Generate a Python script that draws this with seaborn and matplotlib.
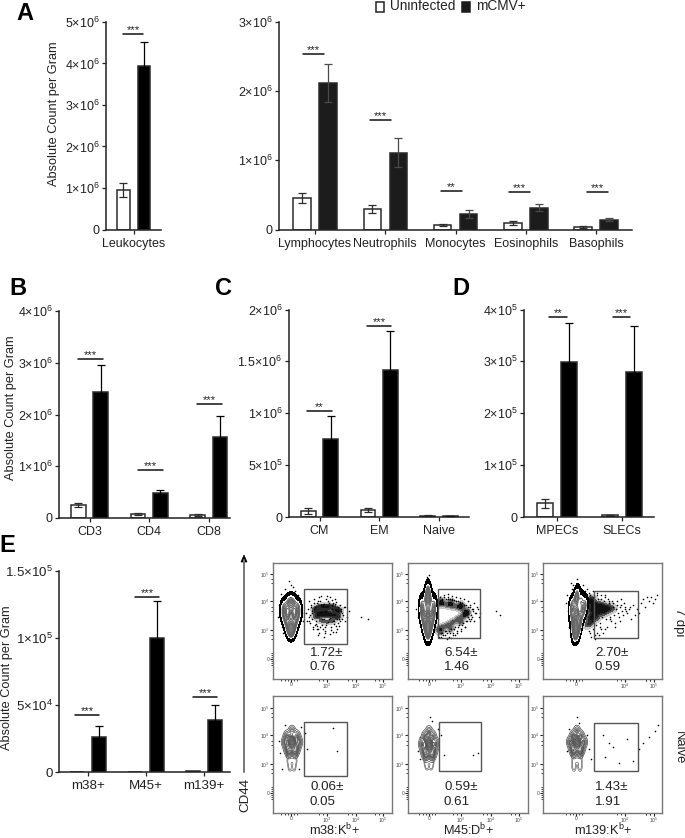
import pandas as pd
import matplotlib
matplotlib.use('Agg')
import matplotlib.pyplot as plt
import seaborn as sns
from matplotlib.colors import ListedColormap
from matplotlib.lines import Line2D
from matplotlib.patches import Rectangle

W, H = 685, 838

# Bar chart values
leuk_cats = ['Leukocytes']
leuk_white = [0.95e6]
leuk_black = [3.94e6]
leuk_white_err = [0.16e6]
leuk_black_err = [0.57e6]

gran_cats = ['Lymphocytes', 'Neutrophils', 'Monocytes', 'Eosinophils', 'Basophils']
gran_white = [0.453e6, 0.294e6, 0.063e6, 0.091e6, 0.034e6]
gran_black = [2.12e6, 1.107e6, 0.226e6, 0.318e6, 0.14e6]
gran_white_err = [0.077e6, 0.058e6, 0.015e6, 0.03e6, 0.014e6]
gran_black_err = [0.27e6, 0.21e6, 0.063e6, 0.048e6, 0.024e6]

cd_cats = ['CD3', 'CD4', 'CD8']
cd_white = [0.244e6, 0.077e6, 0.064e6]
cd_black = [2.43e6, 0.475e6, 1.56e6]
cd_white_err = [0.038e6, 0.013e6, 0.02e6]
cd_black_err = [0.53e6, 0.07e6, 0.42e6]

mem_cats = ['CM', 'EM', 'Naive']
mem_white = [0.058e6, 0.064e6, 0.012e6]
mem_black = [0.756e6, 1.42e6, 0.008e6]
mem_white_err = [0.025e6, 0.02e6, 0.003e6]
mem_black_err = [0.218e6, 0.37e6, 0.002e6]

eff_cats = ['MPECs', 'SLECs']
eff_white = [0.263e5, 0.032e5]
eff_black = [2.99e5, 2.79e5]
eff_white_err = [0.09e5, 0.013e5]
eff_black_err = [0.75e5, 0.89e5]

tet_cats = ['m38+', 'M45+', 'm139+']
tet_white = [0.01e4, 0.03e4, 0.06e4]
tet_black = [2.64e4, 9.98e4, 3.9e4]
tet_white_err = [0.0, 0.0, 0.0]
tet_black_err = [0.77e4, 2.76e4, 1.07e4]

# Flow panels: percentages and channel positions
flow_pct_7dpi = ['1.72±', '6.54±', '2.70±']
flow_sd_7dpi = ['0.76', '1.46', '0.59']
flow_pct_naive = ['0.06±', '0.59±', '1.43±']
flow_sd_naive = ['0.05', '0.61', '1.91']
flow_xlabels = ['m38:K$^{b}$+', 'M45:D$^{b}$+', 'm139:K$^{b}$+']

core_11_x = [11, 15, 21, 25, 18, 11, 18, 25, 13, 23, 18, 15, 21, 18, 17, 19]
core_11_y = [72, 75, 75, 72, 78, 65, 66, 65, 59, 59, 60, 53, 53, 50, 48, 48]
cloud_11_x = [42, 46, 50, 54, 58, 62, 66, 42, 46, 50, 54, 58, 62, 66, 48, 54, 60, 44, 52, 64]
cloud_11_y = [70, 72, 73, 72, 73, 71, 69, 62, 64, 65, 64, 65, 63, 62, 58, 57, 58, 67, 68, 67]
dots_11_x = [8, 12, 18, 22, 26, 6, 5, 9, 30, 31, 16, 20, 14, 25, 10, 23, 19, 17, 36, 38, 41, 44, 47, 50, 53, 56, 59, 62, 65, 68, 70, 37, 40, 43, 46, 49, 52, 55, 58, 61, 64, 67, 39, 45, 51, 57, 63, 42, 48, 54, 60, 66, 36, 44, 52, 60, 88, 95, 72, 76,
             35, 37, 39, 41, 43, 45, 47, 49, 51, 53, 55, 57, 59, 61, 63, 65, 67, 69, 38, 42, 46, 50, 54, 58, 62, 66, 40, 44, 48, 52, 56, 60, 64, 68, 36, 41, 47, 53, 59, 65, 71, 39, 45, 51, 57, 63, 69, 33, 34, 72, 74]
dots_11_y = [85, 90, 94, 88, 80, 74, 62, 52, 58, 66, 98, 92, 84, 84, 46, 44, 42, 86, 78, 72, 80, 76, 78, 74, 80, 76, 79, 75, 72, 70, 64, 56, 50, 58, 46, 54, 48, 57, 52, 55, 50, 58, 66, 44, 42, 45, 47, 72, 74, 73, 76, 60, 62, 53, 52, 58, 62, 60, 58, 68,
             70, 64, 60, 76, 55, 78, 52, 60, 75, 54, 78, 61, 74, 58, 77, 56, 74, 66, 74, 54, 82, 50, 83, 49, 80, 53, 52, 50, 83, 46, 60, 47, 60, 68, 58, 70, 67, 68, 70, 68, 72, 68, 50, 60, 82, 53, 60, 66, 58, 72, 62]
gate_11 = [31, 74, 35, 90]

core_12_x = [14, 18, 22, 26, 20, 14, 20, 26, 16, 24, 20, 17, 23, 20, 19, 21, 20]
core_12_y = [74, 78, 78, 74, 84, 66, 66, 66, 60, 60, 60, 54, 54, 50, 47, 47, 88]
cloud_12_x = [30, 35, 40, 45, 50, 55, 59, 30, 35, 40, 45, 50, 55, 59, 33, 43, 53, 33, 43, 53]
cloud_12_y = [75, 75, 74, 73, 72, 70, 67, 50, 52, 54, 57, 60, 63, 65, 78, 77, 74, 47, 50, 57]
dots_12_x = [8, 10, 12, 14, 26, 28, 30, 24, 16, 18, 20, 22, 62, 65, 68, 71, 60, 63, 66, 69, 40, 44, 48, 52, 56, 34, 38, 42, 46, 50, 54, 58, 62, 33, 37, 41, 45, 49, 53, 57, 36, 40, 44, 48, 52, 56, 60, 64, 39, 43, 47, 21, 19, 18, 22, 88, 92,
             31, 33, 35, 37, 39, 41, 43, 45, 47, 49, 51, 53, 55, 57, 59, 61, 63, 65, 67, 32, 34, 36, 38, 40, 42, 44, 46, 48, 50, 52, 54, 56, 58, 60, 62, 64, 66, 70, 72]
dots_12_y = [70, 62, 56, 80, 84, 66, 60, 88, 88, 94, 100, 96, 74, 70, 66, 62, 62, 60, 76, 72, 80, 79, 78, 76, 74, 46, 48, 46, 50, 52, 54, 58, 58, 42, 44, 42, 44, 46, 48, 52, 84, 85, 83, 82, 81, 80, 78, 62, 40, 41, 44, 104, 102, 98, 92, 68, 64,
             42, 46, 44, 48, 46, 48, 50, 46, 52, 48, 54, 50, 56, 52, 58, 60, 64, 68, 66, 82, 80, 82, 80, 82, 80, 80, 79, 78, 78, 77, 76, 74, 74, 72, 72, 70, 58, 70, 66]
gate_12 = [30, 72, 41, 90]

core_13_x = [29, 33, 38, 42, 34, 29, 34, 40, 31, 37, 33, 31, 36, 33, 32, 34]
core_13_y = [74, 78, 78, 74, 84, 66, 66, 68, 59, 60, 60, 53, 53, 50, 46, 46]
cloud_13_x = [46, 50, 54, 58, 62, 66, 46, 50, 54, 58, 62, 46, 50, 54, 48, 44, 48, 70]
cloud_13_y = [78, 76, 74, 74, 72, 71, 70, 69, 68, 68, 66, 62, 62, 61, 56, 54, 80, 70]
dots_13_x = [23, 25, 27, 29, 24, 26, 38, 42, 46, 50, 54, 58, 62, 66, 70, 74, 78, 82, 86, 90, 94, 98, 102, 106, 110, 114, 112, 104, 46, 50, 54, 58, 48, 52, 56, 60, 64, 68, 72, 76, 30, 34, 36, 40, 44, 48, 52, 80, 84, 88, 96, 28, 32,
             47, 49, 51, 53, 55, 57, 59, 61, 63, 65, 67, 69, 71, 73, 75, 77, 79, 81, 83, 50, 54, 58, 62, 66, 70, 74, 78, 47, 52, 57, 62, 67, 72, 77, 82, 87, 92, 100, 108]
dots_13_y = [76, 68, 60, 90, 84, 52, 90, 88, 86, 82, 84, 80, 82, 78, 76, 74, 80, 72, 70, 74, 70, 76, 72, 78, 76, 84, 80, 82, 48, 50, 46, 50, 42, 40, 44, 46, 52, 58, 56, 62, 94, 100, 92, 94, 90, 78, 76, 64, 66, 60, 66, 96, 88,
             84, 58, 82, 54, 80, 56, 62, 78, 60, 80, 62, 78, 64, 70, 66, 72, 68, 76, 68, 88, 86, 84, 84, 76, 72, 78, 74, 46, 44, 52, 50, 60, 52, 58, 70, 72, 64, 80, 82]
gate_13 = [51, 95, 41, 88]

core_21_x = [12, 26, 14, 24, 19, 19, 14, 24, 19, 16, 22, 19, 18, 20]
core_21_y = [71, 71, 77, 77, 71, 65, 65, 65, 82, 60, 60, 71, 73, 69]
tail_21_x = [15, 19, 23, 16, 19, 22, 17, 21]
tail_21_y = [60, 62, 60, 52, 54, 52, 46, 46]
dots_21_x = [6, 7, 32, 34, 60, 64, 12, 28, 9, 26]
dots_21_y = [72, 60, 80, 64, 85, 62, 88, 86, 44, 44]
gate_21 = [31, 74, 37, 91]

core_22_x = [14, 28, 17, 25, 21, 21, 16, 26, 21, 18, 24, 21, 20, 22]
core_22_y = [69, 69, 76, 76, 69, 62, 62, 62, 81, 57, 57, 69, 72, 66]
tail_22_x = [17, 21, 25, 18, 21, 24, 19, 23]
tail_22_y = [56, 58, 56, 50, 52, 50, 46, 46]
dots_22_x = [10, 12, 33, 36, 65, 70, 22, 24, 30, 12]
dots_22_y = [62, 76, 78, 58, 58, 60, 96, 92, 84, 54]
gate_22 = [31, 73, 42, 91]

core_23_x = [27, 41, 30, 38, 34, 34, 29, 39, 34, 31, 37, 34, 33, 35]
core_23_y = [71, 71, 77, 77, 71, 65, 65, 65, 82, 60, 60, 71, 73, 69]
tail_23_x = [30, 34, 38, 31, 34, 37, 31, 37]
tail_23_y = [60, 62, 60, 52, 54, 52, 46, 46]
dots_23_x = [44, 46, 48, 60, 66, 70, 84, 90, 96, 100, 106, 112, 115, 62, 76, 34, 36, 26, 24]
dots_23_y = [78, 64, 54, 78, 70, 66, 74, 52, 64, 70, 76, 82, 88, 56, 50, 96, 90, 84, 62]
gate_23 = [51, 95, 42, 90]

sns.set_theme(style='ticks')
plt.rcParams['font.family'] = ['Liberation Sans', 'DejaVu Sans']
plt.rcParams['mathtext.default'] = 'regular'
plt.rcParams['axes.unicode_minus'] = False

fig = plt.figure(figsize=(W / 100, H / 100), dpi=100, facecolor='white')
solid_black = ListedColormap(['black'])
solid_white = ListedColormap(['white'])
cloud_shades = ListedColormap(['#c8c8c8', '#8a8a8a', '#555555', '#2a2a2a', '#111111'])
core_shades = ListedColormap(['#c4c4c4', '#a0a0a0', '#7c7c7c'])


def fx(x):
    return x / W


def fy(y):
    return 1 - y / H


def new_axes(left, right, top, bottom):
    return fig.add_axes([fx(left), fy(bottom), (right - left) / W, (bottom - top) / H])


def bar_panel(box, cats, white, black, white_err, black_err, ymax, yticks, ylabels,
              first_px, step, bar_px, dist_px, black_color='black', err_color='black', size=9):
    left, right, top, bottom = box
    ax = new_axes(left, right, top, bottom)
    df = pd.DataFrame({
        'cell': cats * 2,
        'count': white + black,
        'group': ['Uninfected'] * len(cats) + ['mCMV+'] * len(cats),
    })
    sns.barplot(data=df, x='cell', y='count', hue='group',
                hue_order=['Uninfected', 'mCMV+'],
                palette={'Uninfected': 'white', 'mCMV+': black_color},
                width=2 * dist_px / step, gap=1 - bar_px / dist_px,
                edgecolor='#2b2b2b', linewidth=1.1, errorbar=None, legend=False,
                saturation=1, ax=ax)
    colors = ['#2b2b2b'] * len(cats) + [err_color] * len(cats)
    for patch, val, err, col in zip(ax.patches, white + black, white_err + black_err, colors):
        if err > 0:
            xc = patch.get_x() + patch.get_width() / 2
            ax.errorbar(xc, val, yerr=err, color=col, lw=0.9,
                        capsize=2.9, capthick=0.9)
    ax.set_xlim((left - first_px) / step, (right - first_px) / step)
    ax.set_ylim(0, ymax)
    ax.set_yticks(yticks)
    ax.set_yticklabels(ylabels, fontsize=size, color='#222222')
    ax.set_xticks(range(len(cats)))
    ax.set_xticklabels(cats, fontsize=size, color='#222222')
    ax.set_xlabel('')
    ax.set_ylabel('')
    ax.tick_params(length=3, width=0.9, pad=1.5, color='#222222')
    ax.tick_params(axis='x', pad=3)
    ax.patch.set_alpha(0)
    sns.despine(ax=ax)
    for side in ['left', 'bottom']:
        ax.spines[side].set_linewidth(1.1)
        ax.spines[side].set_color('#222222')
    return ax


def sig(x0, x1, y, stars):
    fig.add_artist(Line2D([fx(x0), fx(x1)], [fy(y), fy(y)], color='#111111', lw=1.1))
    fig.text(fx((x0 + x1) / 2), fy(y - 4), stars, ha='center', va='center',
             fontsize=8, color='#222222')


def ylab(x, y):
    fig.text(fx(x), fy(y), 'Absolute Count per Gram', rotation=90, ha='center',
             va='center', fontsize=9.2, color='#222222')


def letter(x, y, s):
    fig.text(fx(x), fy(y), s, ha='center', va='center', fontsize=17,
             fontweight='bold', color='black')


# Panel A
bar_panel((106, 161, 22, 229.5), leuk_cats, leuk_white, leuk_black, leuk_white_err,
          leuk_black_err, 5e6, [0, 1e6, 2e6, 3e6, 4e6, 5e6],
          ['0', '1×10$^{6}$', '2×10$^{6}$', '3×10$^{6}$', '4×10$^{6}$', '5×10$^{6}$'],
          133.5, 60, 12.5, 20.5)
sig(123, 143, 34, '***')
ylab(54, 114)
letter(25, 14, 'A')

bar_panel((279, 632, 22, 229.5), gran_cats, gran_white, gran_black, gran_white_err,
          gran_black_err, 3e6, [0, 1e6, 2e6, 3e6],
          ['0', '1×10$^{6}$', '2×10$^{6}$', '3×10$^{6}$'],
          315, 70.3, 17.5, 26, black_color='#1c1c1c', err_color='#4a4a4a')
for x0, x1, y, stars in [(303, 324, 54, '***'), (370, 391, 120, '***'), (441, 462, 191, '**'),
                         (509, 530, 192, '***'), (587, 608, 192, '***')]:
    sig(x0, x1, y, stars)

fig.add_artist(Rectangle((fx(376), fy(12)), 8 / W, 10 / H, facecolor='white',
                         edgecolor='#222222', lw=1.1, transform=fig.transFigure))
fig.text(fx(390), fy(6.5), 'Uninfected', ha='left', va='center', fontsize=9.8, color='#222222')
fig.add_artist(Rectangle((fx(462), fy(12)), 8 / W, 10 / H, facecolor='#1c1c1c',
                         edgecolor='#1c1c1c', lw=1.1, transform=fig.transFigure))
fig.text(fx(476), fy(6.5), 'mCMV+', ha='left', va='center', fontsize=9.8, color='#222222')

# Panel B
bar_panel((59, 230, 311, 518), cd_cats, cd_white, cd_black, cd_white_err, cd_black_err,
          4e6, [0, 1e6, 2e6, 3e6, 4e6],
          ['0', '1×10$^{6}$', '2×10$^{6}$', '3×10$^{6}$', '4×10$^{6}$'],
          89.5, 59.7, 14.7, 22.3)
for x0, x1, y, stars in [(78, 103, 359, '***'), (138, 163, 470, '***'), (197, 222, 404, '***')]:
    sig(x0, x1, y, stars)
ylab(11, 408)
letter(18, 288, 'B')

# Panel C
bar_panel((289, 469, 309.5, 517), mem_cats, mem_white, mem_black, mem_white_err, mem_black_err,
          2e6, [0, 5e5, 1e6, 1.5e6, 2e6],
          ['0', '5×10$^{5}$', '1×10$^{6}$', '1.5×10$^{6}$', '2×10$^{6}$'],
          319.5, 59.7, 14.7, 22.5)
for x0, x1, y, stars in [(307, 332, 411, '**'), (367, 391, 326, '***')]:
    sig(x0, x1, y, stars)
letter(223, 288, 'C')

# Panel D
bar_panel((524, 654, 309.5, 517), eff_cats, eff_white, eff_black, eff_white_err, eff_black_err,
          4e5, [0, 1e5, 2e5, 3e5, 4e5],
          ['0', '1×10$^{5}$', '2×10$^{5}$', '3×10$^{5}$', '4×10$^{5}$'],
          557, 65, 16, 24)
for x0, x1, y, stars in [(549, 567, 317, '**'), (613, 630, 317, '***')]:
    sig(x0, x1, y, stars)
letter(461, 288, 'D')

# Panel E bars
bar_panel((59, 230, 571, 772), tet_cats, tet_white, tet_black, tet_white_err, tet_black_err,
          1.5e5, [0, 5e4, 1e5, 1.5e5],
          ['0', '5×10$^{4}$', '1×10$^{5}$', '1.5×10$^{5}$'],
          88, 58, 14.3, 22, size=9.6)
for x0, x1, y, stars in [(75, 99, 715, '***'), (135, 159, 597, '***'), (193, 217, 697, '***')]:
    sig(x0, x1, y, stars)
ylab(7, 678)
letter(7, 545, 'E')


# Flow panels
def flow_panel(box, xticks, xtick_labels, core_x, core_y, dots_x, dots_y, gate,
               cloud_x=None, cloud_y=None, cloud_bw=0.6, tail_x=None, tail_y=None):
    left, right, top, bottom = box
    ax = new_axes(left, right, top, bottom)
    if cloud_x is not None:
        sns.kdeplot(x=cloud_x, y=cloud_y, fill=True, levels=[0.08, 0.25, 0.45, 0.65, 0.85, 1],
                    cmap=cloud_shades, bw_adjust=cloud_bw, ax=ax, zorder=1)
    sns.scatterplot(x=dots_x, y=dots_y, s=1.3, color='black', linewidth=0, ax=ax, zorder=2)
    if cloud_x is not None:
        sns.kdeplot(x=core_x, y=core_y, fill=True, levels=[0.02, 1], cmap=solid_black,
                    bw_adjust=0.75, ax=ax, zorder=3)
        sns.kdeplot(x=core_x, y=core_y, fill=True, levels=[0.13, 1], cmap=solid_white,
                    bw_adjust=0.75, ax=ax, zorder=4)
        sns.kdeplot(x=core_x, y=core_y, fill=True, levels=[0.45, 0.65, 0.85, 1], cmap=core_shades,
                    bw_adjust=0.75, ax=ax, zorder=5)
        sns.kdeplot(x=core_x, y=core_y, levels=[0.2, 0.3, 0.4, 0.5, 0.6, 0.7, 0.8, 0.9],
                    color='#666666', linewidths=0.7, bw_adjust=0.75, ax=ax, zorder=6)
    else:
        sns.kdeplot(x=tail_x, y=tail_y, levels=[0.1, 0.4], color='#666666', linewidths=0.5,
                    bw_adjust=0.6, ax=ax, zorder=4)
        sns.kdeplot(x=core_x, y=core_y, fill=True, levels=[0.35, 0.6, 0.8, 1], cmap=core_shades,
                    bw_adjust=0.75, ax=ax, zorder=5)
        sns.kdeplot(x=core_x, y=core_y, levels=[0.03, 0.08, 0.15, 0.25, 0.35, 0.45, 0.55, 0.65, 0.75, 0.85, 0.95],
                    color='#555555', linewidths=0.55, bw_adjust=0.75, ax=ax, zorder=6)
    g0, g1, g2, g3 = gate
    ax.add_patch(Rectangle((g0, g2), g1 - g0, g3 - g2, fill=False, edgecolor='#555555',
                           lw=1.0, zorder=7))
    ax.set_xlim(0, right - left)
    ax.set_ylim(0, bottom - top)
    ax.set_xlabel('')
    ax.set_ylabel('')
    ax.set_xticks(xticks)
    ax.set_xticklabels(xtick_labels, fontsize=3.5, color='#444444')
    ax.set_yticks([20, 49, 78, 105])
    ax.set_yticklabels(['0', '10$^{3}$', '10$^{4}$', '10$^{5}$'], fontsize=3.5, color='#444444')
    ax.set_xticks([xticks[0] - 10, xticks[0] - 6, xticks[0] - 3, xticks[0] + 3, xticks[0] + 6,
                   xticks[1] - 8, xticks[1] - 4, xticks[2] - 8, xticks[2] - 4,
                   xticks[-1] - 8, xticks[-1] - 4], minor=True)
    ax.set_yticks([14, 16, 18, 22, 24, 26, 40, 44, 68, 72, 96, 100], minor=True)
    ax.tick_params(which='major', length=2, width=0.8, pad=0.8, color='#222222')
    ax.tick_params(axis='x', which='major', pad=0.2)
    ax.tick_params(which='minor', length=1.3, width=0.6, color='#222222')
    for spine in ax.spines.values():
        spine.set_color('#777777')
        spine.set_linewidth(1.0)


cols = [(273, 392), (408, 528), (543, 662)]
col_ticks = [[18, 54, 83, 110], [21, 53, 83, 111], [33, 82, 111]]
col_tick_labels = [['0', '10$^{3}$', '10$^{4}$', '10$^{5}$'],
                   ['0', '10$^{3}$', '10$^{4}$', '10$^{5}$'],
                   ['0', '10$^{4}$', '10$^{5}$']]
top_sets = [(core_11_x, core_11_y, dots_11_x, dots_11_y, gate_11, cloud_11_x, cloud_11_y, 0.7),
            (core_12_x, core_12_y, dots_12_x, dots_12_y, gate_12, cloud_12_x, cloud_12_y, 0.4),
            (core_13_x, core_13_y, dots_13_x, dots_13_y, gate_13, cloud_13_x, cloud_13_y, 0.7)]
low_sets = [(core_21_x, core_21_y, dots_21_x, dots_21_y, gate_21, tail_21_x, tail_21_y),
            (core_22_x, core_22_y, dots_22_x, dots_22_y, gate_22, tail_22_x, tail_22_y),
            (core_23_x, core_23_y, dots_23_x, dots_23_y, gate_23, tail_23_x, tail_23_y)]
pct_x = [327, 461, 612]
sd_x = [323, 457, 608]
xlab_x = [335, 469, 603]

for i, (l, r) in enumerate(cols):
    cx, cy, dx, dy, gate, clx, cly, bw = top_sets[i]
    flow_panel((l, r, 563, 679), col_ticks[i], col_tick_labels[i], cx, cy, dx, dy, gate, clx, cly, bw)
    cx, cy, dx, dy, gate, tx, ty = low_sets[i]
    flow_panel((l, r, 696, 813), col_ticks[i], col_tick_labels[i], cx, cy, dx, dy, gate, tail_x=tx, tail_y=ty)
    fig.text(fx(pct_x[i]), fy(653), flow_pct_7dpi[i], ha='center', va='center', fontsize=9.6, color='#222222')
    fig.text(fx(sd_x[i]), fy(667), flow_sd_7dpi[i], ha='center', va='center', fontsize=9.6, color='#222222')
    fig.text(fx(pct_x[i]), fy(787), flow_pct_naive[i], ha='center', va='center', fontsize=9.6, color='#222222')
    fig.text(fx(sd_x[i]), fy(802), flow_sd_naive[i], ha='center', va='center', fontsize=9.6, color='#222222')
    fig.text(fx(xlab_x[i]), fy(835), flow_xlabels[i], ha='center', va='baseline', fontsize=9.2, color='#222222')

# CD44 arrow and row labels
fig.add_artist(Line2D([fx(244), fx(244)], [fy(772), fy(560)], color='#777777', lw=1.4))
fig.add_artist(plt.Polygon([[fx(241), fy(562)], [fx(247), fy(562)], [fx(244), fy(555)]],
                           closed=True, facecolor='black', edgecolor='black', lw=0.5,
                           transform=fig.transFigure))
fig.text(fx(245), fy(795), 'CD44', rotation=90, ha='center', va='center', fontsize=9.6, color='#222222')
fig.text(fx(679), fy(622), '7 dpi', rotation=270, ha='center', va='center', fontsize=9.4, color='#222222')
fig.text(fx(679), fy(748), 'Naive', rotation=270, ha='center', va='center', fontsize=9.4, color='#222222')

plt.savefig('out.png', dpi=100)
